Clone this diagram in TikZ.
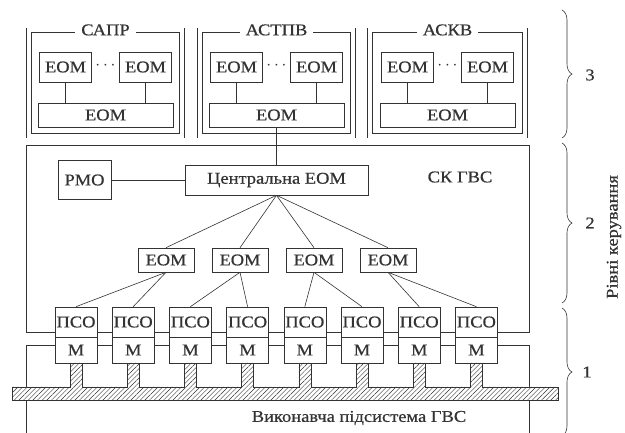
\documentclass[tikz,border=0pt]{standalone}
\usepackage{fontspec}
\setmainfont{Liberation Serif}[FakeStretch=1.12,FakeBold=0.6]
\usetikzlibrary{positioning,patterns.meta,decorations.pathreplacing}

\begin{document}
\begin{tikzpicture}[x=1pt,y=-1pt,on grid,node distance=57.2pt,line width=0.6pt,color=black!80,
        every node/.style={font=\fontsize{16.5}{19}\selectfont},
        box/.style={draw,fill=white,inner sep=0pt},
        frame/.style={draw,double,double distance=4.2pt,minimum width=153pt,minimum height=105.5pt},
        ttl/.style={fill=white,inner xsep=6pt,inner ysep=1pt},
        eom/.style={box,minimum width=52pt,minimum height=30pt},
        beom/.style={box,minimum width=135pt,minimum height=24pt},
        seom/.style={box,minimum width=56pt,minimum height=24pt},
        pso/.style={box,minimum width=42pt,minimum height=30pt},
        mod/.style={box,minimum width=42pt,minimum height=26pt},
        hatch/.style={pattern={Lines[angle=45,distance=3.3pt,line width=0.45pt]},pattern color=black!80},
        brc/.style={decorate,decoration={brace,amplitude=10pt}}]
        \useasboundingbox (0,0) rectangle (625,433);
        % frames of the two lower levels
        \draw (26,145) rectangle (529,332);
        \draw (26,440) |- (529,345) -- (529,440);
        % level 3
        \node[frame] (sapr) at (105.5,83) {};
        \node[frame] (astpv) [right=171pt of sapr] {};
        \node[frame,minimum width=155pt] (askv) [right=171pt of astpv] {};
        \node[ttl] (sapr_t) at (sapr.north) {САПР};
        \node[ttl] (astpv_t) at (astpv.north) {АСТПВ};
        \node[ttl] (askv_t) at (askv.north) {АСКВ};
        \node[eom] (sapr_1) [above left=16pt and 40pt of sapr] {ЕОМ};
        \node[eom] (sapr_2) [above right=16pt and 40pt of sapr] {ЕОМ};
        \node (sapr_d) [above=17pt of sapr] {$\cdots$};
        \node[beom] (sapr_3) [below=32pt of sapr] {ЕОМ};
        \node[eom] (astpv_1) [above left=16pt and 40pt of astpv] {ЕОМ};
        \node[eom] (astpv_2) [above right=16pt and 40pt of astpv] {ЕОМ};
        \node (astpv_d) [above=17pt of astpv] {$\cdots$};
        \node[beom] (astpv_3) [below=32pt of astpv] {ЕОМ};
        \node[eom] (askv_1) [above left=16pt and 40pt of askv] {ЕОМ};
        \node[eom] (askv_2) [above right=16pt and 40pt of askv] {ЕОМ};
        \node (askv_d) [above=17pt of askv] {$\cdots$};
        \node[beom] (askv_3) [below=32pt of askv] {ЕОМ};
        % level 2
        \node[box,minimum width=183pt,minimum height=30pt] (cen) at (276.5,180) {Центральна ЕОМ};
        \node[box,minimum width=53pt,minimum height=39pt] (rmo) at (84.5,180) {РМО};
        \node (skgvs) at (460,177) {СК ГВС};
        \node[seom] (e_1) at (166,260) {ЕОМ};
        \node[seom] (e_2) [right=74pt of e_1] {ЕОМ};
        \node[seom] (e_3) [right=74pt of e_2] {ЕОМ};
        \node[seom] (e_4) [right=74pt of e_3] {ЕОМ};
        % level 1
        \node[pso] (pso_1) at (76,322) {ПСО};
        \node[pso] (pso_2) [right=of pso_1] {ПСО};
        \node[pso] (pso_3) [right=of pso_2] {ПСО};
        \node[pso] (pso_4) [right=of pso_3] {ПСО};
        \node[pso] (pso_5) [right=of pso_4] {ПСО};
        \node[pso] (pso_6) [right=of pso_5] {ПСО};
        \node[pso] (pso_7) [right=of pso_6] {ПСО};
        \node[pso] (pso_8) [right=of pso_7] {ПСО};
        \foreach \i in {1,...,8}
            \node[mod] (m_\i) [below=28pt of pso_\i] {М};
        \node (vp) at (359,418) {Виконавча підсистема ГВС};
        % connectors
        \path
        (sapr_1.south) edge (sapr_1.south |- sapr_3.north)
        (sapr_2.south) edge (sapr_2.south |- sapr_3.north)
        (astpv_1.south) edge (astpv_1.south |- astpv_3.north)
        (astpv_2.south) edge (astpv_2.south |- astpv_3.north)
        (askv_1.south) edge (askv_1.south |- askv_3.north)
        (askv_2.south) edge (askv_2.south |- askv_3.north)
        (astpv_3.south) edge (cen.north)
        (rmo.east) edge (cen.west)
        (cen.south) edge (e_1.north)
                    edge (e_2.north)
                    edge (e_3.north)
                    edge (e_4.north)
        (e_1.south) edge (pso_1.north)
                    edge (pso_2.north)
        (e_2.south) edge (pso_3.north)
                    edge (pso_4.north)
        (e_3.south) edge (pso_5.north)
                    edge (pso_6.north)
        (e_4.south) edge (pso_7.north)
                    edge (pso_8.north);
        % hatched bus
        \draw[hatch,preaction={fill=white}] (12,387)
            \foreach \i in {0,...,7}{ -- ({70+57.2*\i},387) -- ++(0,-24) -- ++(12,0) -- ++(0,24) }
            -- (558,387) -- (558,400) -- (12,400) -- cycle;
        % levels
        \draw[brc] (562,10) -- (562,138);
        \draw[brc] (562,143) -- (562,303);
        \draw[brc] (562,308) -- (562,436);
        \node (lvl_3) at (590,75) {3};
        \node (lvl_2) at (590,223) {2};
        \node (lvl_1) at (587,372) {1};
        \node[rotate=90] (lvl) at (614,237) {Рівні керування};
\end{tikzpicture}
\end{document}
